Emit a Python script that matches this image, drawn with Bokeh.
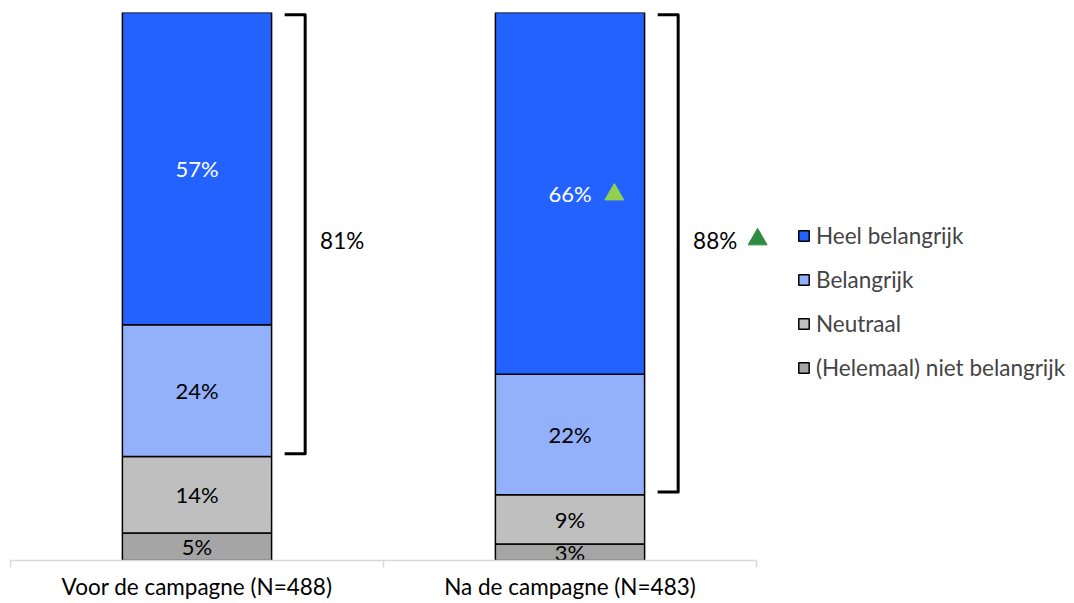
from bokeh.plotting import figure
from bokeh.models import (ColumnDataSource, Range1d, LinearAxis, FixedTicker,
                          Legend, LegendItem)
from bokeh.core.properties import value
from bokeh.embed import file_html
from bokeh.resources import INLINE

categories = ["Voor de campagne (N=488)", "Na de campagne (N=483)"]
series = ["(Helemaal) niet belangrijk", "Neutraal", "Belangrijk", "Heel belangrijk"]
niet = [5, 3]
neutraal = [14, 9]
belangrijk = [24, 22]
heel = [57, 66]
top2 = [81, 88]
top2_significant = [False, True]
heel_significant = [False, True]
colors = ["#A5A5A5", "#BFBFBF", "#92B1FA", "#2462FF"]
label_colors = ["black", "black", "black", "white"]

FONT = "Lato"

xs = [i + 0.5 for i in range(len(categories))]
keys = ["niet", "neutraal", "belangrijk", "heel"]
data = dict(x=xs, niet=niet, neutraal=neutraal, belangrijk=belangrijk, heel=heel)
source = ColumnDataSource(data)

W, H = 1074, 603
LEFT = 10
frame_w = W - LEFT
cat_px = 373.0

p = figure(width=W, height=H, output_backend="svg", toolbar_location=None,
           x_range=Range1d(0, frame_w / cat_px), y_range=Range1d(0, 100),
           min_border_left=LEFT, min_border_right=0, min_border_top=12,
           min_border_bottom=43, x_axis_location=None, y_axis_location=None)
p.outline_line_color = None
p.grid.visible = False
p.background_fill_color = "white"
p.border_fill_color = "white"

renderers = p.vbar_stack(keys, x="x", width=0.4, source=source, color=colors,
                         line_color="black", line_width=1.5)

# axis
ax = LinearAxis(bounds=(0, len(categories)),
                ticker=FixedTicker(ticks=xs, minor_ticks=list(range(len(categories) + 1))))
ax.major_label_overrides = {x: c for x, c in zip(xs, categories)}
ax.major_tick_line_color = None
ax.major_tick_out = 7
ax.minor_tick_out = 7
ax.minor_tick_in = 0
ax.minor_tick_line_color = "#D9D9D9"
ax.minor_tick_line_width = 1.5
ax.axis_line_color = "#D9D9D9"
ax.axis_line_width = 1.5
ax.major_label_standoff = 5
ax.major_label_text_font = FONT
ax.major_label_text_font_size = "22.5px"
ax.major_label_text_color = "black"
p.add_layout(ax, "below")

# segment labels
lx, ly, lt, lc = [], [], [], []
for i, x in enumerate(xs):
    vals = [niet[i], neutraal[i], belangrijk[i], heel[i]]
    cum = 0
    for j, v in enumerate(vals):
        lx.append(x)
        ly.append(cum + v / 2.0)
        lt.append(f"{v}%")
        lc.append(label_colors[j])
        cum += v
p.text(x=lx, y=ly, text=lt, text_color=lc, text_font=value(FONT),
       text_font_size="22px", text_align="center", text_baseline="middle")

# significance triangle next to heel belangrijk label
tx, ty = [], []
for i, x in enumerate(xs):
    if heel_significant[i]:
        tx.append(x + 0.119)
        ty.append(niet[i] + neutraal[i] + belangrijk[i] + heel[i] / 2.0 - 0.2)
p.scatter(x=tx, y=ty, marker="triangle", size=19, fill_color="#92D050",
          line_color="#92D050")

# brackets for top-2
bx, by = [], []
for i, x in enumerate(xs):
    base = niet[i] + neutraal[i]
    lo = base + 0.5
    hi = 99.6
    bx.append([x + 0.235, x + 0.29, x + 0.29, x + 0.235])
    by.append([hi, hi, lo, lo])
p.multi_line(xs=bx, ys=by, line_color="black", line_width=3, line_join="round")

p.text(x=[x + 0.33 for x in xs], y=[58.4, 58.4], text=[f"{t}%" for t in top2],
       text_color="black", text_font=value(FONT), text_font_size="22.5px",
       text_align="left", text_baseline="middle")
gx = [x + 0.503 for x, s in zip(xs, top2_significant) if s]
p.scatter(x=gx, y=[58.6] * len(gx), marker="triangle", size=19,
          fill_color="#2E8B3F", line_color="#2E8B3F")

# legend
items = [LegendItem(label=series[j], renderers=[renderers[j]]) for j in [3, 2, 1, 0]]
legend = Legend(items=items, location=(787, 179), orientation="vertical",
                glyph_width=13, glyph_height=13, label_standoff=6,
                label_text_font=FONT, label_text_font_size="22.5px",
                label_height=20, spacing=17, padding=0, margin=0,
                border_line_color=None, background_fill_alpha=0)
p.add_layout(legend, "center")

open("out.html", "w").write(file_html(p, INLINE))
